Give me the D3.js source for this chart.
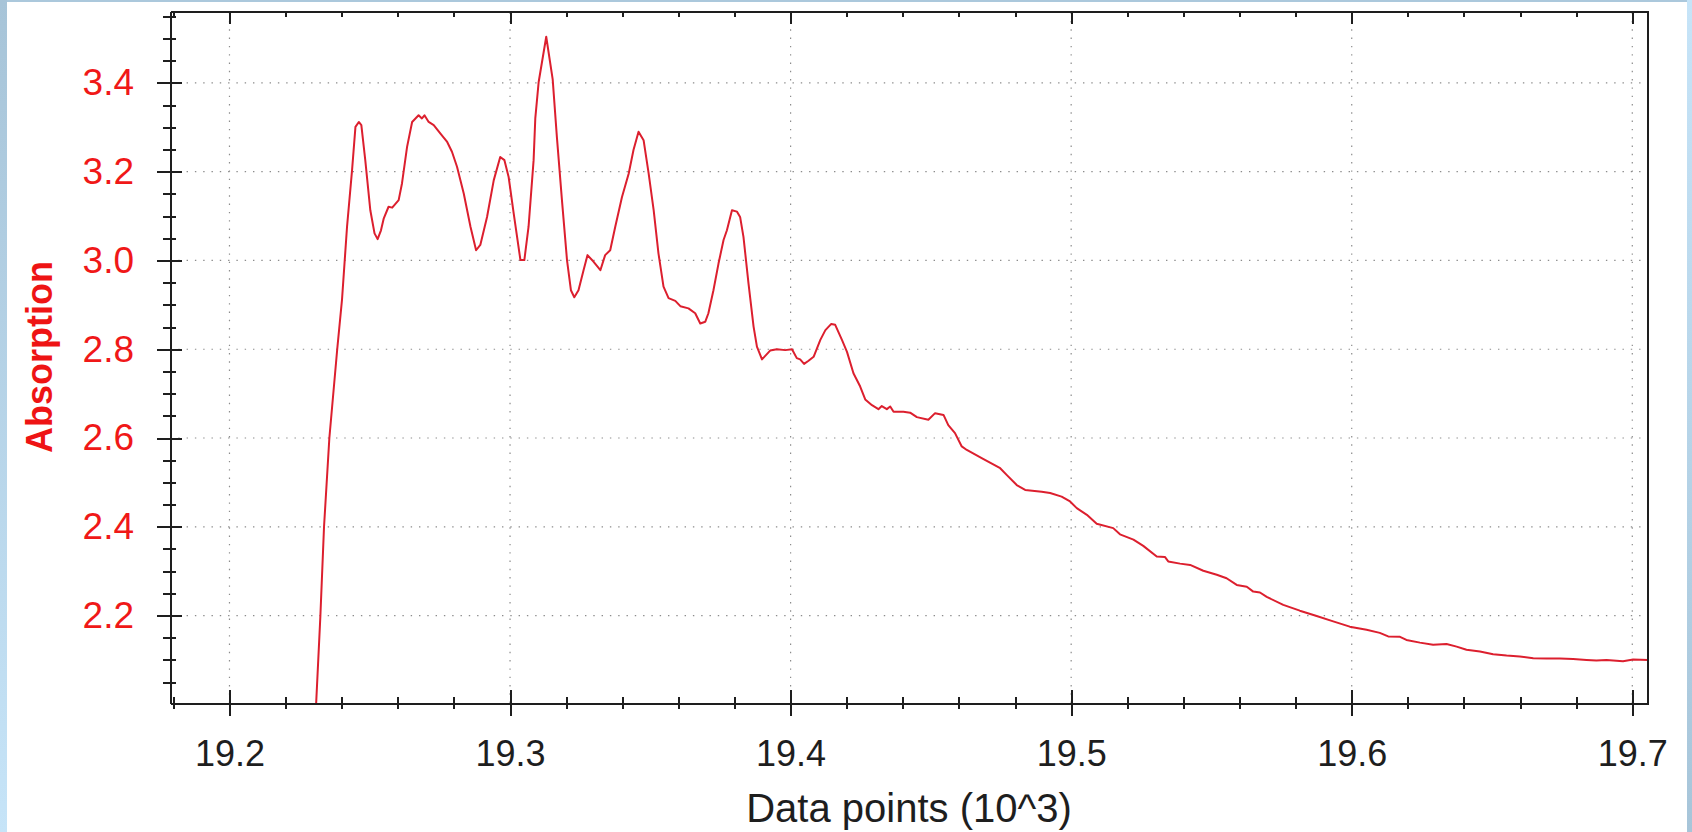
<html>
  <head>
    <script src="https://d3js.org/d3.v7.min.js"></script>
    <style>
      body {
        margin: 0;
        background: #fff;
      }
      svg {
        display: block;
        font-family: Arial, "Liberation Sans", sans-serif;
      }
      .axis path, .axis line, .frame {
        stroke: #1e1e1e;
        stroke-width: 2;
        fill: none;
        shape-rendering: crispEdges;
      }
      .grid line {
        stroke: #8c8c8c;
        stroke-width: 1.2;
        stroke-dasharray: 1.4, 6.9;
      }
      .line {
        fill: none;
        stroke: #dc1f2e;
        stroke-width: 2;
        stroke-linejoin: round;
      }
    </style>
  </head>
  <body>
    <div id="chart"></div>
    <script>
// curve (x in 10^3 data points, y = absorption)
var xValues = [
  19.2309, 19.2324, 19.2337, 19.2356, 19.2384, 19.2401, 19.2419, 19.2437, 19.2449, 19.2461,
  19.2470, 19.2484, 19.2502, 19.2517, 19.2528, 19.2540, 19.2550, 19.2567, 19.2580, 19.2603,
  19.2615, 19.2633, 19.2651, 19.2674, 19.2686, 19.2695, 19.2710, 19.2728, 19.2752, 19.2776,
  19.2793, 19.2811, 19.2835, 19.2859, 19.2879, 19.2894, 19.2918, 19.2942, 19.2965, 19.2980,
  19.2995, 19.3013, 19.3037, 19.3051, 19.3066, 19.3084, 19.3090, 19.3102, 19.3129, 19.3152,
  19.3167, 19.3185, 19.3203, 19.3217, 19.3229, 19.3244, 19.3262, 19.3276, 19.3298, 19.3322,
  19.3339, 19.3357, 19.3375, 19.3399, 19.3423, 19.3440, 19.3458, 19.3476, 19.3494, 19.3512,
  19.3529, 19.3547, 19.3565, 19.3589, 19.3607, 19.3636, 19.3660, 19.3678, 19.3696, 19.3707,
  19.3725, 19.3743, 19.3761, 19.3773, 19.3791, 19.3809, 19.3820, 19.3832, 19.3850, 19.3868,
  19.3880, 19.3898, 19.3927, 19.3951, 19.3981, 19.4005, 19.4022, 19.4034, 19.4048, 19.4064,
  19.4082, 19.4106, 19.4124, 19.4145, 19.4159, 19.4183, 19.4201, 19.4224, 19.4248, 19.4266,
  19.4290, 19.4313, 19.4325, 19.4343, 19.4355, 19.4367, 19.4402, 19.4426, 19.4450, 19.4491,
  19.4515, 19.4545, 19.4562, 19.4586, 19.4610, 19.4628, 19.4686, 19.4747, 19.4770, 19.4806,
  19.4836, 19.4895, 19.4925, 19.4966, 19.4996, 19.5020, 19.5056, 19.5091, 19.5150, 19.5174,
  19.5222, 19.5257, 19.5305, 19.5334, 19.5346, 19.5388, 19.5424, 19.5471, 19.5519, 19.5554,
  19.5590, 19.5626, 19.5649, 19.5673, 19.5697, 19.5756, 19.5815, 19.5875, 19.5934, 19.5993,
  19.6053, 19.6100, 19.6130, 19.6172, 19.6195, 19.6243, 19.6290, 19.6338, 19.6374, 19.6409,
  19.6457, 19.6504, 19.6552, 19.6599, 19.6647, 19.6694, 19.6742, 19.6789, 19.6837, 19.6872,
  19.6908, 19.6967, 19.7003, 19.7056
];
var yValues = [
  2.003, 2.199, 2.400, 2.600, 2.800, 2.911, 3.076, 3.204, 3.301, 3.312,
  3.305, 3.226, 3.113, 3.061, 3.048, 3.068, 3.095, 3.121, 3.119, 3.136,
  3.174, 3.256, 3.312, 3.327, 3.320, 3.327, 3.312, 3.305, 3.286, 3.267,
  3.245, 3.211, 3.151, 3.076, 3.023, 3.035, 3.098, 3.181, 3.233, 3.226,
  3.188, 3.106, 3.001, 3.001, 3.076, 3.226, 3.320, 3.402, 3.504, 3.408,
  3.278, 3.136, 3.001, 2.933, 2.917, 2.933, 2.978, 3.012, 2.997, 2.978,
  3.012, 3.023, 3.076, 3.143, 3.196, 3.249, 3.290, 3.271, 3.196, 3.113,
  3.016, 2.941, 2.915, 2.909, 2.897, 2.892, 2.881, 2.858, 2.862, 2.881,
  2.933, 2.993, 3.046, 3.068, 3.113, 3.110, 3.098, 3.053, 2.948, 2.851,
  2.806, 2.777, 2.797, 2.800, 2.798, 2.800, 2.780, 2.777, 2.767, 2.774,
  2.783, 2.821, 2.843, 2.857, 2.855, 2.821, 2.794, 2.746, 2.716, 2.687,
  2.674, 2.665, 2.672, 2.665, 2.671, 2.659, 2.659, 2.657, 2.647, 2.641,
  2.656, 2.652, 2.629, 2.611, 2.581, 2.573, 2.553, 2.532, 2.517, 2.494,
  2.483, 2.479, 2.476, 2.468, 2.457, 2.442, 2.427, 2.407, 2.397, 2.383,
  2.371, 2.357, 2.333, 2.332, 2.322, 2.317, 2.314, 2.301, 2.292, 2.284,
  2.269, 2.265, 2.254, 2.252, 2.242, 2.224, 2.211, 2.199, 2.187, 2.175,
  2.168, 2.161, 2.153, 2.152, 2.145, 2.139, 2.134, 2.136, 2.130, 2.123,
  2.119, 2.113, 2.110, 2.108, 2.104, 2.103, 2.103, 2.102, 2.100, 2.099,
  2.100, 2.097, 2.101, 2.100
];

var xTicks = [19.2, 19.3, 19.4, 19.5, 19.6, 19.7];
var xMinorTicks = d3.range(0, 27).map(i => +(19.18 + i * 0.02).toFixed(2));
var yTicks = [2.2, 2.4, 2.6, 2.8, 3.0, 3.2, 3.4];
var yMinorTicks = d3.range(0, 31).map(i => +(2.05 + i * 0.05).toFixed(2));

var xTitle = "Data points (10^3)";
var yTitle = "Absorption";

var width = 1692;
var height = 832;
var plotLeft = 170, plotRight = 1648, plotTop = 11, plotBottom = 703;

/* Scale */
var xScale = d3.scaleLinear()
  .domain([19.1788, 19.7056])
  .range([plotLeft, plotRight]);

var yScale = d3.scaleLinear()
  .domain([2.003, 3.562])
  .range([plotBottom, plotTop]);

var svg = d3.select("#chart").append("svg")
  .attr("width", width)
  .attr("height", height);

/* slide background strips */
var defs = svg.append("defs");
var gLeft = defs.append("linearGradient")
  .attr("id", "edgeLeft")
  .attr("x1", 0).attr("y1", 0).attr("x2", 0).attr("y2", 1);
gLeft.append("stop").attr("offset", "0%").attr("stop-color", "#a7c4d8");
gLeft.append("stop").attr("offset", "100%").attr("stop-color", "#c6e4f8");

var gRight = defs.append("linearGradient")
  .attr("id", "edgeRight")
  .attr("x1", 0).attr("y1", 0).attr("x2", 0).attr("y2", 1);
gRight.append("stop").attr("offset", "0%").attr("stop-color", "#c6e4f8");
gRight.append("stop").attr("offset", "100%").attr("stop-color", "#a7c5d9");

defs.append("clipPath")
  .attr("id", "plotClip")
  .append("rect")
  .attr("x", plotLeft)
  .attr("y", plotTop)
  .attr("width", plotRight - plotLeft)
  .attr("height", plotBottom - plotTop);

svg.append("rect")
  .attr("x", 0).attr("y", 0)
  .attr("width", width).attr("height", 2)
  .attr("fill", "#abc8dc");
svg.append("rect")
  .attr("x", 0).attr("y", 0)
  .attr("width", 7).attr("height", height)
  .attr("fill", "url(#edgeLeft)");
svg.append("rect")
  .attr("x", 1687).attr("y", 0)
  .attr("width", 5).attr("height", height)
  .attr("fill", "url(#edgeRight)");

/* dotted grid */
var grid = svg.append("g").attr("class", "grid");
grid.selectAll(".gx")
  .data(xTicks).enter()
  .append("line")
  .attr("x1", d => xScale(d)).attr("x2", d => xScale(d))
  .attr("y1", plotBottom).attr("y2", plotTop);
grid.selectAll(".gy")
  .data(yTicks).enter()
  .append("line")
  .attr("x1", plotLeft).attr("x2", plotRight)
  .attr("y1", d => yScale(d)).attr("y2", d => yScale(d));

/* curve */
var line = d3.line()
  .x(d => xScale(d[0]))
  .y(d => yScale(d[1]));

svg.append("path")
  .datum(xValues.map((v, i) => [v, yValues[i]]))
  .attr("class", "line")
  .attr("clip-path", "url(#plotClip)")
  .attr("d", line);

/* Axes */
// bottom: minor ticks then major ticks, both crossing the axis line
svg.append("g")
  .attr("class", "axis")
  .attr("transform", `translate(0, ${plotBottom})`)
  .call(d3.axisBottom(xScale).tickValues(xMinorTicks).tickSize(6).tickSizeOuter(0).tickFormat(""))
  .call(g => g.selectAll(".tick line").attr("y1", -6));

svg.append("g")
  .attr("class", "axis x")
  .attr("transform", `translate(0, ${plotBottom})`)
  .call(d3.axisBottom(xScale).tickValues(xTicks).tickSize(13).tickSizeOuter(0).tickPadding(24).tickFormat(d3.format(".1f")))
  .call(g => g.selectAll(".tick line").attr("y1", -13))
  .call(g => g.selectAll("text")
    .attr("fill", "#1e1e1e")
    .style("font-size", "36px"));

// top frame, ticks pointing inside
svg.append("g")
  .attr("class", "axis")
  .attr("transform", `translate(0, ${plotTop})`)
  .call(d3.axisBottom(xScale).tickValues(xMinorTicks).tickSize(6).tickSizeOuter(0).tickFormat(""));
svg.append("g")
  .attr("class", "axis")
  .attr("transform", `translate(0, ${plotTop})`)
  .call(d3.axisBottom(xScale).tickValues(xTicks).tickSize(13).tickSizeOuter(0).tickFormat(""));

// left axis
svg.append("g")
  .attr("class", "axis")
  .attr("transform", `translate(${plotLeft}, 0)`)
  .call(d3.axisLeft(yScale).tickValues(yMinorTicks).tickSize(7).tickSizeOuter(0).tickFormat(""))
  .call(g => g.selectAll(".tick line").attr("x1", 6));

svg.append("g")
  .attr("class", "axis y")
  .attr("transform", `translate(${plotLeft}, 0)`)
  .call(d3.axisLeft(yScale).tickValues(yTicks).tickSize(13).tickSizeOuter(0).tickPadding(23).tickFormat(d3.format(".1f")))
  .call(g => g.selectAll(".tick line").attr("x1", 12))
  .call(g => g.selectAll("text")
    .attr("fill", "#f01818")
    .style("font-size", "37px"));

// right frame
svg.append("line")
  .attr("class", "frame")
  .attr("x1", plotRight).attr("x2", plotRight)
  .attr("y1", plotTop).attr("y2", plotBottom);

/* Titles */
svg.append("text")
  .attr("x", (plotLeft + plotRight) / 2)
  .attr("y", 822)
  .attr("text-anchor", "middle")
  .attr("fill", "#1e1e1e")
  .style("font-size", "40px")
  .text(xTitle);

svg.append("text")
  .attr("transform", `translate(52, ${(plotTop + plotBottom) / 2}) rotate(-90)`)
  .attr("text-anchor", "middle")
  .attr("fill", "#ee1414")
  .style("font-size", "36px")
  .style("font-weight", "bold")
  .text(yTitle);
    </script>
  </body>
</html>
